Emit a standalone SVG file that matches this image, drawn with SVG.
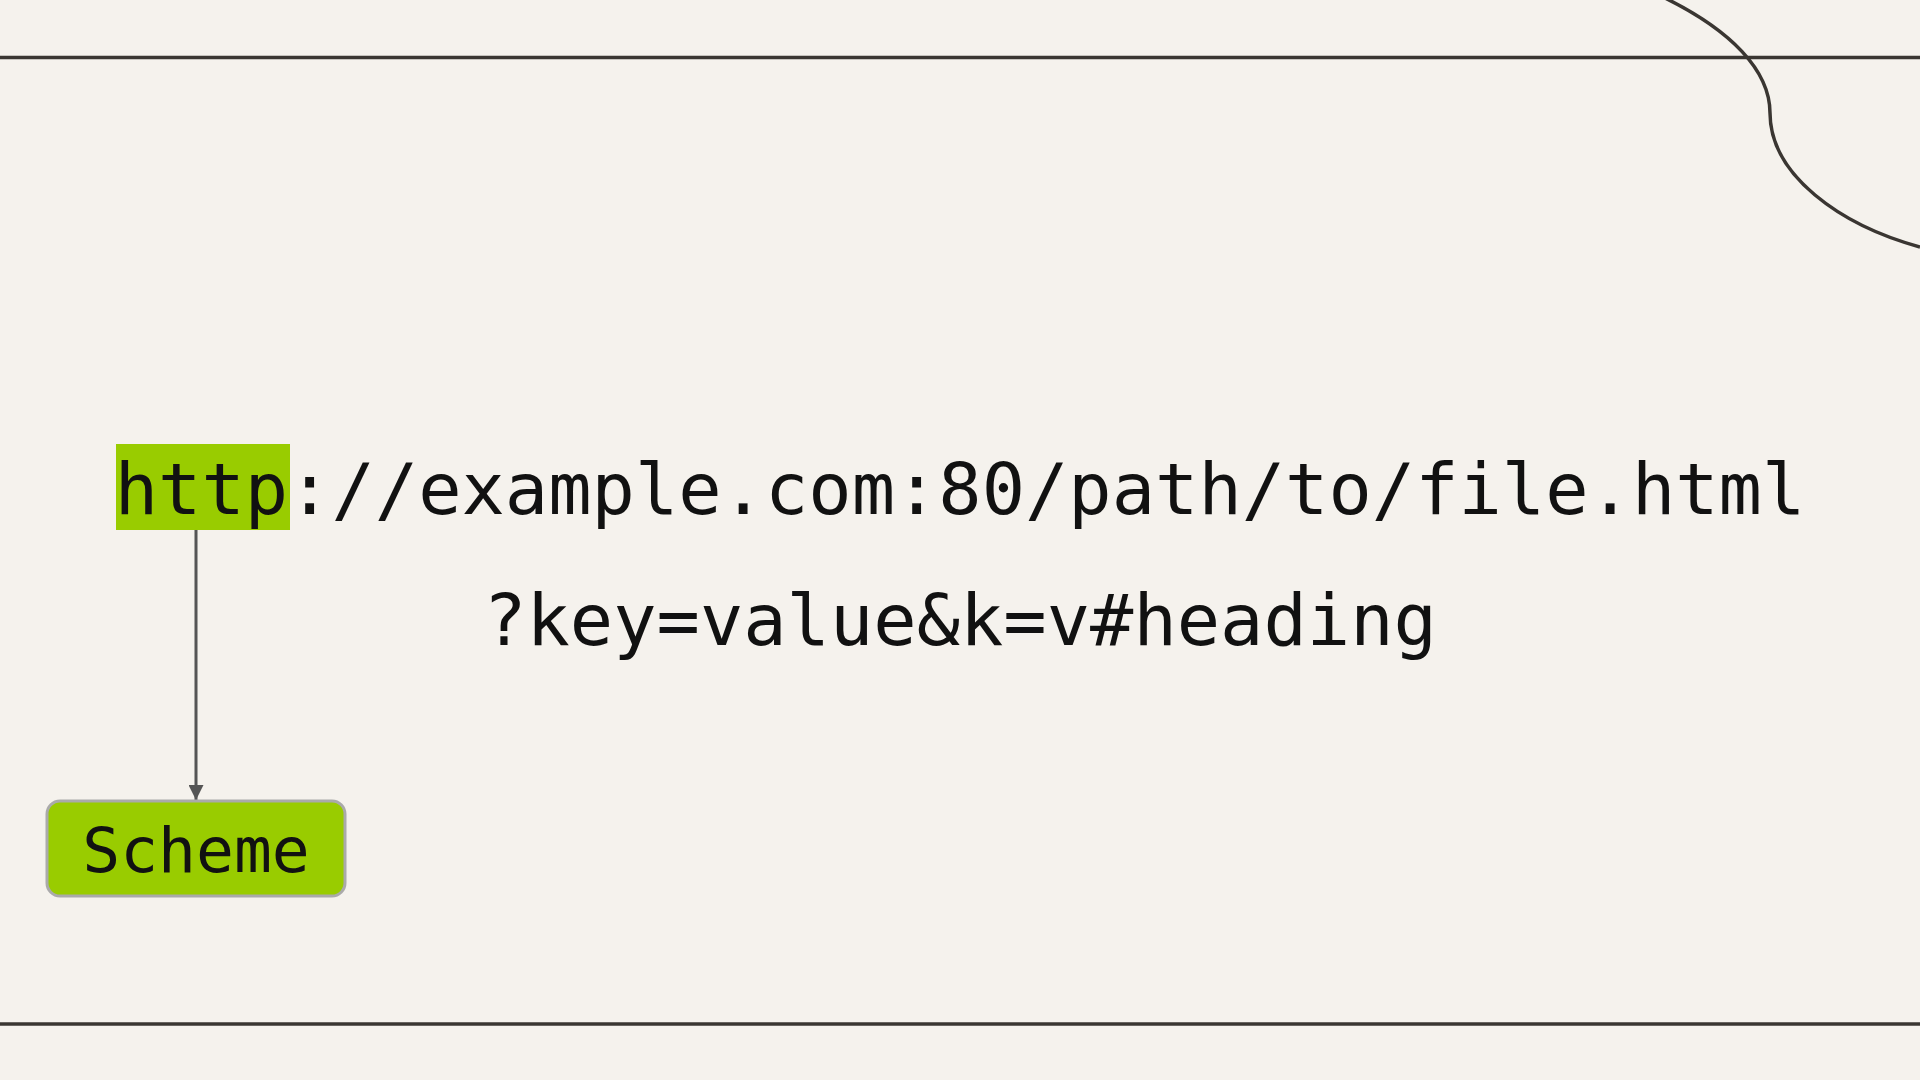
<svg xmlns="http://www.w3.org/2000/svg" width="1920" height="1080" viewBox="0 0 1920 1080">
  <style>
    .rule { stroke: #3a3632; stroke-width: 3.5; fill: none; }
    .mono { font-family: "DejaVu Sans Mono", "Liberation Mono", monospace; fill: #111111; }
    .url { font-size: 72px; }
    .hl { fill: #99cc00; }
    .node { fill: #99cc00; stroke: #aaaaaa; stroke-width: 3; }
    .conn { stroke: #555555; stroke-width: 3; fill: none; }
  </style>
  <defs>
    <marker id="arrow" viewBox="0 0 10 10" refX="10" refY="5" markerWidth="5" markerHeight="5" orient="auto" markerUnits="strokeWidth">
      <path d="M0,0 L10,5 L0,10 Z" fill="#555555"/>
    </marker>
  </defs>
  <rect x="0" y="0" width="1920" height="1080" fill="#f5f2ed"/>
  <g id="decor">
    <line class="rule" x1="0" y1="57.5" x2="1920" y2="57.5"/>
    <line class="rule" x1="0" y1="1024" x2="1920" y2="1024"/>
    <path class="rule" d="M1665,-2 C1730,30 1770,70 1770,113 C1770,175 1840,225 1920,247"/>
  </g>
  <g id="url">
    <rect id="scheme-highlight" class="hl" x="116" y="444" width="174" height="86"/>
    <text class="mono url" x="960" y="514" text-anchor="middle">http://example.com:80/path/to/file.html</text>
    <text class="mono url" x="960" y="645" text-anchor="middle">?key=value&amp;k=v#heading</text>
  </g>
  <g id="connectors">
    <line class="conn" x1="196" y1="530" x2="196" y2="800" marker-end="url(#arrow)"/>
  </g>
  <g id="scheme">
    <rect class="node" x="47" y="801" width="298" height="95" rx="13" ry="13"/>
    <text class="mono" x="196" y="872" font-size="63" text-anchor="middle">Scheme</text>
  </g>
</svg>
